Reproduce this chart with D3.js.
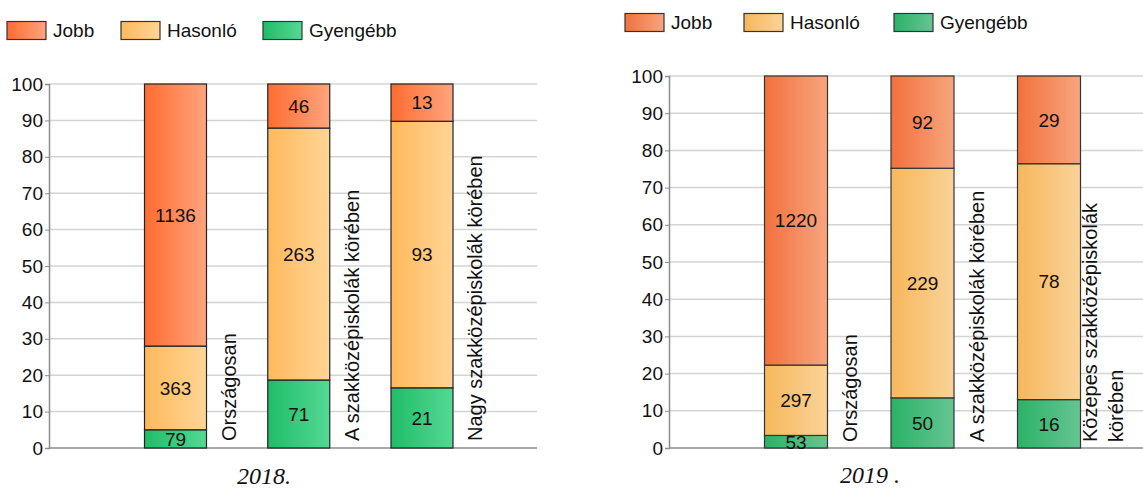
<!DOCTYPE html>
<html>
<head>
<meta charset="utf-8">
<script src="https://cdnjs.cloudflare.com/ajax/libs/d3/7.8.5/d3.min.js"></script>
<style>
  body { margin: 0; background: #fff; }
  svg { display: block; font-family: "Liberation Sans", Arial, sans-serif; }
</style>
</head>
<body>
<div class="chart"></div>
<script>
// data
const seriesNames = ["Jobb", "Hasonló", "Gyengébb"];
const yTicks = [0, 10, 20, 30, 40, 50, 60, 70, 80, 90, 100];

const categories2018 = ["Országosan", "A szakközépiskolák körében", "Nagy szakközépiskolák körében"];
const jobb2018 = [1136, 46, 13];
const hasonlo2018 = [363, 263, 93];
const gyengebb2018 = [79, 71, 21];

const categories2019 = ["Országosan", "A szakközépiskolák körében", "Közepes szakközépiskolák\nkörében"];
const jobb2019 = [1220, 92, 29];
const hasonlo2019 = [297, 229, 78];
const gyengebb2019 = [53, 50, 16];

let svg = d3.select(".chart")
  .append("svg")
    .attr("width", 1143)
    .attr("height", 490);

let defs = svg.append("defs");

function grad(id, from, to) {
  let g = defs.append("linearGradient")
    .attr("id", id)
    .attr("x1", "0%").attr("x2", "100%")
    .attr("y1", "0%").attr("y2", "0%");
  g.append("stop").attr("offset", "0%").attr("stop-color", from);
  g.append("stop").attr("offset", "100%").attr("stop-color", to);
}

function drawPanel(p) {
  // gradients for this panel
  p.colors.forEach((c, i) => grad(p.id + "-" + i, c[0], c[1]));

  let rows = p.categories.map((c, i) => ({
    cat: c, Gyengébb: p.gyengebb[i], Hasonló: p.hasonlo[i], Jobb: p.jobb[i]
  }));
  // percentage stack, bottom to top: Gyengébb, Hasonló, Jobb
  let keys = ["Gyengébb", "Hasonló", "Jobb"];
  let stack = d3.stack().keys(keys).offset(d3.stackOffsetExpand)(rows);

  let y = d3.scaleLinear().domain([0, 100]).range([p.y0, p.y100]);
  let x = d3.scalePoint().domain(p.categories).range([p.c0, p.c1]);

  let g = svg.append("g").attr("id", "g-" + p.id);

  // gridlines
  g.append("g")
    .selectAll("line")
    .data(yTicks.filter(t => t > 0))
    .join("line")
      .attr("x1", p.axisX).attr("x2", p.gridEnd)
      .attr("y1", d => y(d)).attr("y2", d => y(d))
      .attr("stroke", "#d4d4d4")
      .attr("stroke-width", 1.5);

  // y axis
  let yAxis = g.append("g")
    .attr("transform", "translate(" + p.axisX + ",0)")
    .call(d3.axisLeft(y).tickValues(yTicks).tickSize(4).tickPadding(2));
  yAxis.select(".domain").attr("stroke", "#8c8c8c").attr("stroke-width", 1.5);
  yAxis.selectAll(".tick line").attr("stroke", "#8c8c8c");
  yAxis.selectAll(".tick text")
    .attr("fill", "#111")
    .style("font-size", "19px")
    .style("font-family", "Liberation Sans, Arial, sans-serif");

  // baseline
  g.append("line")
    .attr("x1", p.axisX).attr("x2", p.gridEnd)
    .attr("y1", y(0)).attr("y2", y(0))
    .attr("stroke", "#8c8c8c")
    .attr("stroke-width", 1.5);

  // bars
  stack.forEach((layer, li) => {
    let colorIdx = seriesNames.indexOf(layer.key);
    let lg = g.append("g");
    lg.selectAll("rect")
      .data(layer)
      .join("rect")
        .attr("x", d => x(d.data.cat) - p.barW / 2)
        .attr("width", p.barW)
        .attr("y", d => y(d[1] * 100))
        .attr("height", d => y(d[0] * 100) - y(d[1] * 100))
        .attr("fill", "url(#" + p.id + "-" + colorIdx + ")")
        .attr("stroke", p.barStroke)
        .attr("stroke-width", 1.2);
    lg.selectAll("text")
      .data(layer)
      .join("text")
        .attr("x", d => x(d.data.cat))
        .attr("y", d => y((d[0] + d[1]) / 2 * 100))
        .attr("dy", "0.36em")
        .attr("text-anchor", "middle")
        .style("font-size", "19px")
        .attr("fill", "#111")
        .text(d => d.data[layer.key]);
  });

  // rotated category labels
  p.categories.forEach(c => {
    let lines = c.split("\n");
    lines.forEach((ln, i) => {
      let bx = x(c) + p.labelOff + (i - (lines.length - 1) / 2) * 26;
      g.append("text")
        .attr("transform", "translate(" + bx + "," + p.labelY + ") rotate(-90)")
        .attr("text-anchor", "start")
        .style("font-size", "20px")
        .attr("fill", "#111")
        .text(ln);
    });
  });

  // legend
  seriesNames.forEach((s, i) => {
    g.append("rect")
      .attr("x", p.legX[i]).attr("y", p.legY)
      .attr("width", 39).attr("height", 18)
      .attr("fill", "url(#" + p.id + "-" + i + ")")
      .attr("stroke", "#333")
      .attr("stroke-width", 1.2);
    g.append("text")
      .attr("x", p.legX[i] + 46).attr("y", p.legY + 9)
      .attr("dy", "0.36em")
      .style("font-size", "19px")
      .attr("fill", "#111")
      .text(s);
  });

  // year caption
  g.append("text")
    .attr("x", p.titleX).attr("y", p.titleY)
    .attr("text-anchor", "middle")
    .style("font-family", "Liberation Serif, Times New Roman, serif")
    .style("font-style", "italic")
    .style("font-size", "24px")
    .attr("fill", "#111")
    .text(p.title);
}

drawPanel({
  id: "y2018",
  categories: categories2018,
  jobb: jobb2018, hasonlo: hasonlo2018, gyengebb: gyengebb2018,
  colors: [["#ff6c30", "#ffa47e"], ["#ffb95c", "#ffd596"], ["#1fbd69", "#55d893"]],
  barStroke: "#222",
  axisX: 49, y0: 448, y100: 84, gridEnd: 537,
  c0: 175.5, c1: 422, barW: 62,
  labelOff: 60, labelY: 441,
  legX: [7, 121, 263], legY: 21.5,
  title: "2018.", titleX: 264, titleY: 484
});

drawPanel({
  id: "y2019",
  categories: categories2019,
  jobb: jobb2019, hasonlo: hasonlo2019, gyengebb: gyengebb2019,
  colors: [["#f2713c", "#f7a57f"], ["#f7b75c", "#f9d398"], ["#2bb268", "#66c592"]],
  barStroke: "#333",
  axisX: 669, y0: 448, y100: 76, gridEnd: 1143,
  c0: 796, c1: 1049, barW: 63,
  labelOff: 61, labelY: 442,
  legX: [625, 744, 894], legY: 13.5,
  title: "2019 .", titleX: 870, titleY: 483
});
</script>
</body>
</html>
